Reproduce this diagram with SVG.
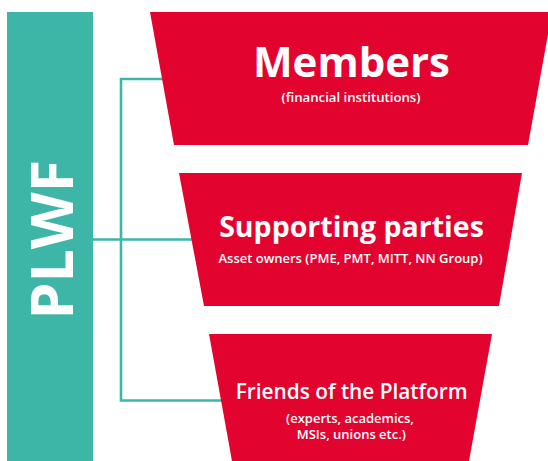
<svg xmlns="http://www.w3.org/2000/svg" width="548" height="461" viewBox="0 0 548 461">
<style>
.tier{fill:#e3032f}
.conn{stroke:#3db5a7;stroke-width:2.6;fill:none}
text{font-family:"Open Sans","Noto Sans",sans-serif;fill:#fff;text-anchor:middle}
.t1{font-size:42px;font-weight:700}
.t2{font-size:28.5px;font-weight:700}
.t3{font-size:20.8px;font-weight:600}
.sub{font-size:13.2px;font-weight:600}
.sub3{font-size:13px;font-weight:600}
</style>
<rect width="548" height="461" fill="#fff"/>
<g id="connectors">
<path class="conn" d="M175 79 H121 V400.5 H230"/>
<path class="conn" d="M93 239.5 H200"/>
</g>
<g id="plwf">
<rect x="7" y="12" width="86" height="449" fill="#3db5a7"/>
<text transform="translate(72.5 239.7) rotate(-90)" font-size="59" font-weight="700">PLWF</text>
</g>
<g id="members">
<polygon class="tier" points="150,12 552,12 528,145 174,145"/>
<text class="t1" x="351.5" y="77.3">Members</text>
<text class="sub" x="351" y="101.7">(financial institutions)</text>
</g>
<g id="supporting">
<polygon class="tier" points="179,173 522,173 499,306 204,306"/>
<text class="t2" x="351.5" y="237">Supporting parties</text>
<text class="sub3" x="350.5" y="262.7">Asset owners (PME, PMT, MITT, NN Group)</text>
</g>
<g id="friends">
<polygon class="tier" points="209,334 492,334 469,461 232,461"/>
<text class="t3" x="351.7" y="399.3">Friends of the Platform</text>
<text class="sub3" x="350" y="423.3">(experts, academics,</text>
<text class="sub3" x="351.3" y="438.5">MSIs, unions etc.)</text>
</g>
</svg>
